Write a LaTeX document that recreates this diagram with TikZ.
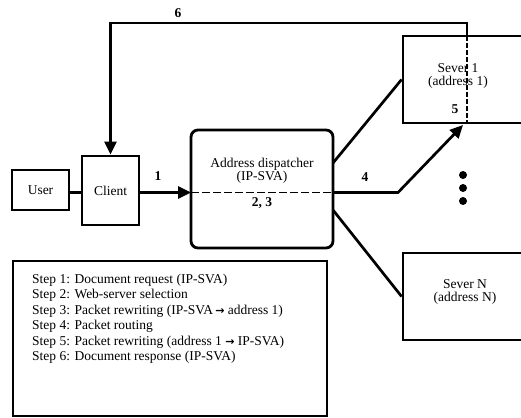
\documentclass[tikz,border=0pt]{standalone}
\usepackage{fontspec}
\setmainfont{Liberation Serif}
\newfontfamily\arrfont{DejaVu Sans}
\newcommand{\rarr}{{\arrfont\bfseries\fontsize{11}{11}\selectfont →}}
\usetikzlibrary{arrows.meta}
\begin{document}
\begin{tikzpicture}[x=1pt,y=-1pt,
  box/.style={draw,line width=2.8pt,inner sep=0pt},
  txt/.style={font=\fontsize{13.5}{13}\selectfont,align=center,inner sep=0pt},
  num/.style={font=\fontsize{13.5}{14}\selectfont\bfseries,inner sep=0pt},
  conn/.style={line width=2.7pt},
  arr/.style={conn,-{Triangle[length=13pt,width=12pt]}},
  legtxt/.style={font=\fontsize{13.5}{14}\selectfont,anchor=west,inner sep=0pt},
  dot/.style={circle,fill,minimum size=8pt,inner sep=0pt}]
\useasboundingbox (0,0) rectangle (521,417);
\clip (0,0) rectangle (521,417);
% boxes
\node[box,txt,minimum width=57pt,minimum height=40pt] (user) at (40.5,190) {User};
\node[box,txt,minimum width=57pt,minimum height=69pt] (client) at (110.5,190.5) {Client};
\node[box,rounded corners=7pt,minimum width=142pt,minimum height=118pt] (disp) at (262,189) {};
\node[txt] (dispt) at (262,170.5) {Address dispatcher\\(IP-SVA)};
\node[num] (n23) at (262,203) {2, 3};
\node[box,minimum width=120pt,minimum height=87pt] (s1) at (463,79.5) {};
\node[txt] (s1t) at (458,76) {Sever 1\\(address 1)};
\node[num] (n5) at (455,109) {5};
\node[box,minimum width=120pt,minimum height=87pt] (sN) at (463,296.5) {};
\node[txt] (sNt) at (465,292) {Sever N\\(address N)};
\node[dot] (dot1) at (463,175) {};
\node[dot] (dot2) at (463,188) {};
\node[dot] (dot3) at (463,201) {};
% coordinates
\coordinate (dl) at (191,192.5);
\coordinate (dr) at (333,192.5);
\coordinate (bend4) at (398,192.5);
\coordinate (a4) at (463,125);
\coordinate (s1top) at (467,36);
\coordinate (s1bot) at (467,123);
\coordinate (corner6) at (467,23);
\coordinate (dup) at (333,163);
\coordinate (ddown) at (333,210);
% dashed lines
\draw[line width=1.8pt,dash pattern=on 8pt off 3pt] (dl) -- (dr);
\draw[line width=1.2pt,dash pattern=on 5pt off 2pt] (s1top) -- (s1bot);
% connectors
\draw[conn] (user.east |- dl) -- (client.west |- dl);
\draw[arr] (client.east |- dl) -- (dl);
\node[num] (n1) at (158,176) {1};
\draw[arr] (dr) -- (bend4) -- (a4);
\node[num] (n4) at (365,177) {4};
\draw[conn] (dup) -- (s1.west);
\draw[conn] (ddown) -- (sN.west);
\draw[arr] (s1top) -- (corner6) -| (client.north);
\node[num] (n6) at (178,13) {6};
% legend
\node[box,minimum width=314pt,minimum height=155pt] (legend) at (170,338.5) {};
\node[legtxt] (l1) at (32,280) {Step 1: Document request (IP-SVA)};
\node[legtxt] (l2) at (32,295.5) {Step 2: Web-server selection};
\node[legtxt] (l3) at (32,311) {Step 3: Packet rewriting (IP-SVA\,\rarr\ address 1)};
\node[legtxt] (l4) at (32,326.5) {Step 4: Packet routing};
\node[legtxt] (l5) at (32,342) {Step 5: Packet rewriting (address 1 \rarr\ IP-SVA)};
\node[legtxt] (l6) at (32,357.5) {Step 6: Document response (IP-SVA)};
\end{tikzpicture}
\end{document}
